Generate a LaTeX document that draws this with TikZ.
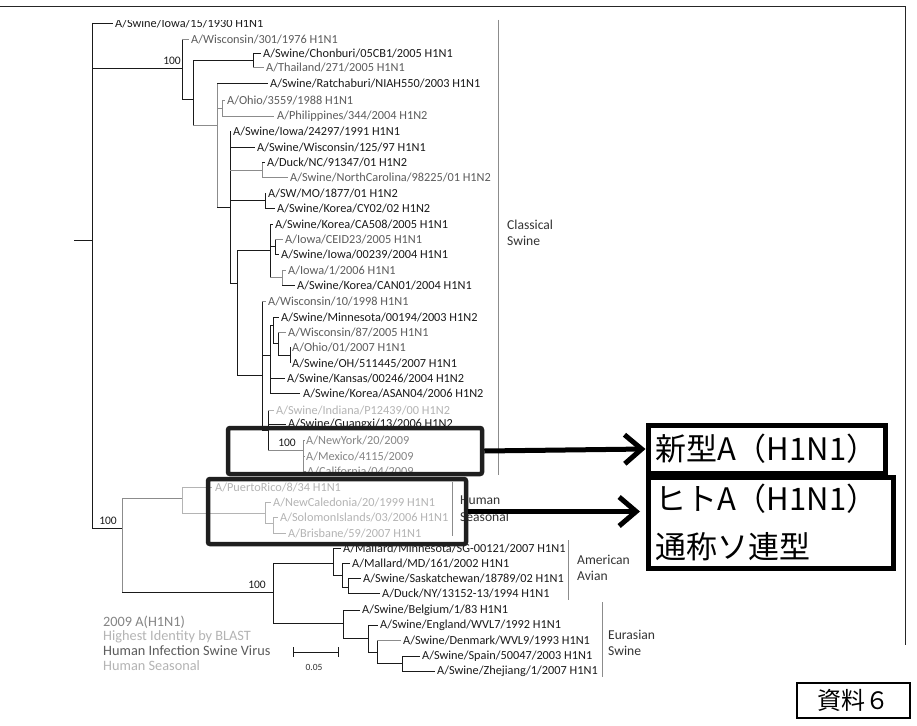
\documentclass[tikz,border=0pt]{standalone}
\usepackage{fontspec}
\setmainfont{Carlito}
\newfontfamily\cjkfont{Noto Sans CJK JP}
\usetikzlibrary{arrows.meta}
\definecolor{cblack}{HTML}{1A1A1A}
\definecolor{chum}{HTML}{5C5C5C}
\definecolor{cnew}{HTML}{858585}
\definecolor{clight}{HTML}{B4B4B4}
\definecolor{cbar}{HTML}{8C8C8C}
\definecolor{cclade}{HTML}{333333}
\begin{document}
\begin{tikzpicture}[x=1pt,y=-1pt,
  br/.style={line width=0.9pt, draw=cblack},
  brg/.style={line width=0.9pt, draw=cbar},
  brl/.style={line width=0.9pt, draw=clight},
  lf/.style={anchor=west, inner sep=0pt, font=\fontsize{12.3}{13}\selectfont, text=cblack},
  lfh/.style={lf, text=chum},
  lfn/.style={lf, text=cnew},
  lfl/.style={lf, text=clight},
  boot/.style={inner sep=0pt, font=\fontsize{11.5}{12}\selectfont, text=cblack},
  clade/.style={anchor=west, inner sep=0pt, font=\fontsize{13.6}{14}\selectfont, text=cclade},
  bar/.style={line width=0.9pt, draw=cbar},
  leg/.style={anchor=west, inner sep=0pt, font=\fontsize{14.3}{15}\selectfont},
  hibox/.style={draw=black!88, line width=4.5pt, rounded corners=2pt},
  jbox/.style={draw=black, line width=5pt, fill=white, inner xsep=7pt, inner ysep=0pt, align=left, font=\cjkfont\fontsize{31}{48}\selectfont},
  bigarrow/.style={line width=5pt, draw=black, -{Straight Barb[length=17pt,width=29pt]}}
]
\useasboundingbox (0,0) rectangle (917,725);
\fill[white] (0,0) rectangle (917,725);
% frame
\coordinate (ftl) at (0,7);
\coordinate (ftr) at (905,7);
\coordinate (fbr) at (905,645);
\draw[line width=1pt, draw=black!85] (ftl) -- (ftr) -- (fbr);

\begin{scope}
\clip (0,21) rectangle (917,725);
% ---- classical swine part ----
\draw[br] (74,240) -- (92,240);
\draw[br] (92,23) -- (92,528);
\draw[br] (92,23) -- (113,23);
\node[lf] (l1) at (115,23) {A/Swine/Iowa/15/1930 H1N1};
\draw[br] (92,68) -- (182,68);
\node[boot] (b1) at (172,61) {100};
\draw[br] (182,39) -- (182,99);
\draw[brg] (182,39) -- (189,39);
\node[lfh] (l2) at (191,39) {A/Wisconsin/301/1976 H1N1};
\draw[br] (182,99) -- (193,99);
\draw[br] (193,60) -- (193,125);
\draw[br] (193,60) -- (253,60);
\draw[br] (253,53) -- (253,67);
\draw[br] (253,53) -- (261,53);
\node[lf] (l3) at (263,53) {A/Swine/Chonburi/05CB1/2005 H1N1};
\draw[brg] (253,67) -- (264,67);
\node[lfh] (l4) at (266,67) {A/Thailand/271/2005 H1N1};
\draw[brg] (193,125) -- (217,125);
\draw[brg] (217,83) -- (217,207);
\draw[br] (217,83) -- (268,83);
\node[lf] (l5) at (270,83) {A/Swine/Ratchaburi/NIAH550/2003 H1N1};
\draw[brg] (217,108) -- (222,108);
\draw[brg] (222,100) -- (222,116);
\draw[brg] (222,100) -- (225,100);
\node[lfh] (l6) at (227,100) {A/Ohio/3559/1988 H1N1};
\draw[brg] (222,116) -- (274,116);
\node[lfh] (l7) at (277,116) {A/Philippines/344/2004 H1N2};
\draw[br] (217,207) -- (230,207);
\draw[br] (230,131) -- (230,283);
\draw[br] (230,131) -- (231,131);
\node[lf] (l8) at (233,131) {A/Swine/Iowa/24297/1991 H1N1};
\draw[br] (230,147) -- (255,147);
\node[lf] (l9) at (257,147) {A/Swine/Wisconsin/125/97 H1N1};
\draw[brg] (230,170) -- (262,170);
\draw[brg] (262,162) -- (262,177);
\draw[br] (262,162) -- (265,162);
\node[lf] (l10) at (267,162) {A/Duck/NC/91347/01 H1N2};
\draw[brg] (262,177) -- (288,177);
\node[lfh] (l11) at (290,177) {A/Swine/NorthCarolina/98225/01 H1N2};
\draw[br] (230,200) -- (265,200);
\draw[br] (265,193) -- (265,208);
\draw[br] (265,193) -- (266,193);
\node[lf] (l12) at (268,193) {A/SW/MO/1877/01 H1N2};
\draw[br] (265,208) -- (275,208);
\node[lf] (l13) at (277,208) {A/Swine/Korea/CY02/02 H1N2};
\draw[br] (230,283) -- (237,283);
\draw[br] (237,250) -- (237,375);
\draw[br] (237,250) -- (270,250);
\draw[br] (270,224) -- (270,277);
\draw[br] (270,224) -- (273,224);
\node[lf] (l14) at (275,224) {A/Swine/Korea/CA508/2005 H1N1};
\draw[br] (270,246) -- (275,246);
\draw[br] (275,239) -- (275,254);
\draw[brg] (275,239) -- (283,239);
\node[lfh] (l15) at (285,239) {A/Iowa/CEID23/2005 H1N1};
\draw[br] (275,254) -- (279,254);
\node[lf] (l16) at (281,254) {A/Swine/Iowa/00239/2004 H1N1};
\draw[brg] (270,277) -- (282,277);
\draw[brg] (282,270) -- (282,285);
\draw[brg] (282,270) -- (286,270);
\node[lfh] (l17) at (288,270) {A/Iowa/1/2006 H1N1};
\draw[br] (282,285) -- (295,285);
\node[lf] (l18) at (297,285) {A/Swine/Korea/CAN01/2004 H1N1};
\draw[br] (237,375) -- (262,375);
\draw[br] (262,301) -- (262,430);
\draw[brg] (262,301) -- (266,301);
\node[lfh] (l19) at (268,301) {A/Wisconsin/10/1998 H1N1};
\draw[br] (262,355) -- (270,355);
\draw[br] (270,325) -- (270,393);
\draw[br] (270,325) -- (273,325);
\draw[br] (273,317) -- (273,343);
\draw[br] (273,317) -- (279,317);
\node[lf] (l20) at (281,317) {A/Swine/Minnesota/00194/2003 H1N2};
\draw[br] (273,343) -- (278,343);
\draw[br] (278,332) -- (278,355);
\draw[brg] (278,332) -- (286,332);
\node[lfh] (l21) at (288,332) {A/Wisconsin/87/2005 H1N1};
\draw[br] (278,355) -- (290,355);
\draw[br] (290,347) -- (290,363);
\node[lfh] (l22) at (292,347) {A/Ohio/01/2007 H1N1};
\node[lf] (l23) at (292,363) {A/Swine/OH/511445/2007 H1N1};
\draw[br] (270,378) -- (285,378);
\node[lf] (l24) at (287,378) {A/Swine/Kansas/00246/2004 H1N2};
\draw[br] (270,393) -- (300,393);
\node[lf] (l25) at (303,393) {A/Swine/Korea/ASAN04/2006 H1N2};
\draw[br] (262,430) -- (268,430);
\draw[br] (268,410) -- (268,450);
\draw[brl] (268,410) -- (274,410);
\node[lfl] (l26) at (276,410) {A/Swine/Indiana/P12439/00 H1N2};
\draw[br] (268,424) -- (286,424);
\node[lf] (l27) at (288,424) {A/Swine/Guangxi/13/2006 H1N2};
\draw[brg] (268,450) -- (303,450);
\node[boot] (b2) at (287,443) {100};
\draw[brg] (303,440) -- (303,471);
\draw[brg] (303,440) -- (305,440);
\node[lfn] (l28) at (306,440) {A/NewYork/20/2009};
\draw[brg] (303,456) -- (305,456);
\node[lfn] (l29) at (306,456) {A/Mexico/4115/2009};
\draw[brg] (303,471) -- (306,471);
\node[lfn] (l30) at (307,471) {A/California/04/2009};

% ---- human seasonal / avian / eurasian ----
\draw[br] (92,528) -- (122,528);
\node[boot] (b3) at (108,521) {100};
\draw[brg] (122,498) -- (122,592);
\draw[brg] (122,498) -- (182,498);
\draw[brl] (182,487) -- (182,513);
\draw[brl] (182,487) -- (212,487);
\node[lfl] (l31) at (215,487) {A/PuertoRico/8/34 H1N1};
\draw[brl] (182,513) -- (265,513);
\draw[brl] (265,502) -- (265,523);
\draw[brl] (265,502) -- (271,502);
\node[lfl] (l32) at (273,502) {A/NewCaledonia/20/1999 H1N1};
\draw[brl] (265,523) -- (273,523);
\draw[brl] (273,517) -- (273,533);
\draw[brl] (273,517) -- (278,517);
\node[lfl] (l33) at (280,517) {A/SolomonIslands/03/2006 H1N1};
\draw[brl] (273,533) -- (286,533);
\node[lfl] (l34) at (288,533) {A/Brisbane/59/2007 H1N1};
\draw[br] (122,592) -- (273,592);
\node[boot] (b4) at (257,585) {100};
\draw[br] (273,563) -- (273,623);
\draw[br] (273,563) -- (333,563);
\draw[br] (333,548) -- (333,575);
\draw[br] (333,548) -- (341,548);
\node[lf] (l35) at (343,548) {A/Mallard/Minnesota/SG-00121/2007 H1N1};
\draw[br] (333,575) -- (342,575);
\draw[br] (342,563) -- (342,587);
\draw[br] (342,563) -- (350,563);
\node[lf] (l36) at (352,563) {A/Mallard/MD/161/2002 H1N1};
\draw[br] (342,587) -- (348,587);
\draw[br] (348,578) -- (348,593);
\draw[br] (348,578) -- (361,578);
\node[lf] (l37) at (363,578) {A/Swine/Saskatchewan/18789/02 H1N1};
\draw[br] (348,593) -- (380,593);
\node[lf] (l38) at (382,593) {A/Duck/NY/13152-13/1994 H1N1};
\draw[br] (273,623) -- (343,623);
\draw[br] (343,610) -- (343,638);
\draw[br] (343,610) -- (360,610);
\node[lf] (l39) at (362,610) {A/Swine/Belgium/1/83 H1N1};
\draw[br] (343,638) -- (368,638);
\draw[br] (368,625) -- (368,652);
\draw[br] (368,625) -- (378,625);
\node[lf] (l40) at (380,625) {A/Swine/England/WVL7/1992 H1N1};
\draw[br] (368,652) -- (377,652);
\draw[br] (377,640) -- (377,663);
\draw[brg] (377,640) -- (401,640);
\node[lf] (l41) at (403,640) {A/Swine/Denmark/WVL9/1993 H1N1};
\draw[br] (377,663) -- (402,663);
\draw[br] (402,656) -- (402,671);
\draw[br] (402,656) -- (420,656);
\node[lf] (l42) at (422,656) {A/Swine/Spain/50047/2003 H1N1};
\draw[br] (402,671) -- (435,671);
\node[lf] (l43) at (437,671) {A/Swine/Zhejiang/1/2007 H1N1};
\end{scope}

% clade bars and labels
\draw[bar] (498,20) -- (498,475);
\node[clade] (c1a) at (507,225) {Classical};
\node[clade] (c1b) at (507,241) {Swine};
\draw[bar] (452,482) -- (452,536);
\node[clade] (c2a) at (460,500) {Human};
\node[clade] (c2b) at (460,517) {Seasonal};
\draw[bar] (568,540) -- (568,600);
\node[clade] (c3a) at (577,560) {American};
\node[clade] (c3b) at (577,576) {Avian};
\draw[bar] (602,602) -- (602,677);
\node[clade] (c4a) at (608,635) {Eurasian};
\node[clade] (c4b) at (608,651) {Swine};

% legend
\node[leg, text=cnew] (g1) at (103,622) {2009 A(H1N1)};
\node[leg, text=clight] (g2) at (103,637) {Highest Identity by BLAST};
\node[leg, text=chum] (g3) at (103,651) {Human Infection Swine Virus};
\node[leg, text=clight] (g4) at (103,666) {Human Seasonal};

% scale bar
\coordinate (s1) at (293,652);
\coordinate (s2) at (338,652);
\draw[line width=0.9pt, draw=cblack] (s1) -- (s2);
\draw[line width=0.9pt, draw=cblack] (293,647) -- (293,657);
\draw[line width=0.9pt, draw=cblack] (338,647) -- (338,657);
\node[inner sep=0pt, font=\fontsize{9.5}{10}\selectfont, text=cclade] (sl) at (314,667) {0.05};

% highlight boxes
\node[hibox, minimum width=254pt, minimum height=46pt, inner sep=0pt] (hb1) at (355,451) {};
\node[hibox, minimum width=258pt, minimum height=65pt, inner sep=0pt] (hb2) at (337,511.5) {};

% Japanese boxes
\node[jbox, text width=223pt, minimum height=48pt] (jb1) at (766.5,449) {新型A（H1N1）};
\node[jbox, text width=231pt, minimum height=91pt] (jb2) at (770.5,522.5) {ヒトA（H1N1）\\通称ソ連型};

% arrows
\coordinate (tip2) at (640,511.5);
\draw[bigarrow] (hb1.east) -- (jb1.west);
\draw[bigarrow] (hb2.east) -- (tip2);

% document label
\node[draw=black, line width=1.2pt, minimum width=113pt, minimum height=35pt, inner sep=0pt, font=\cjkfont\fontsize{24}{26}\selectfont] (doc) at (853.5,700.5) {資料６};
\end{tikzpicture}
\end{document}
